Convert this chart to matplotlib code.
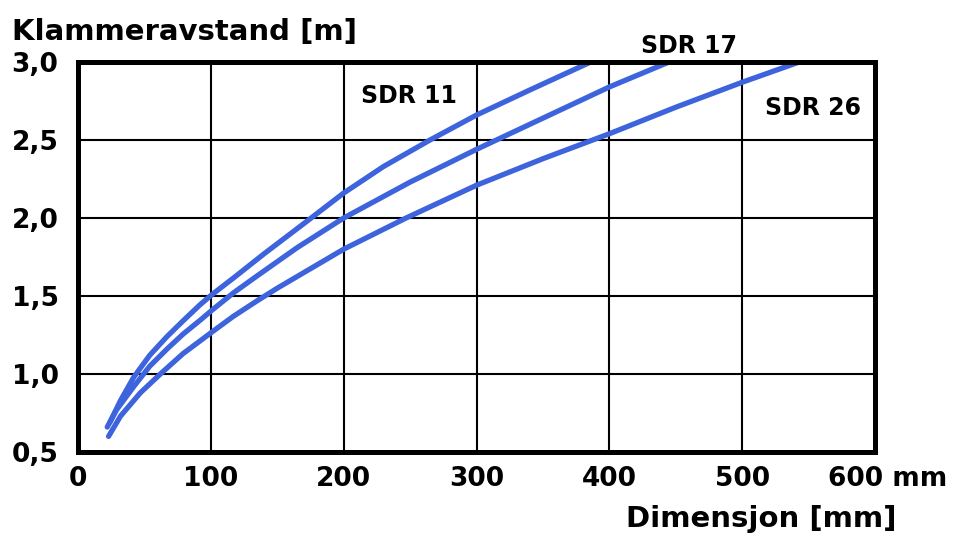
import matplotlib
matplotlib.use("Agg")
import matplotlib.pyplot as plt

# ---- data ----
sdr11_x = [24, 32, 42, 54, 67, 79, 92, 101, 117, 140, 174, 200, 230, 265, 300, 340, 386]
sdr11_y = [0.69, 0.83, 0.98, 1.12, 1.24, 1.34, 1.445, 1.51, 1.615, 1.77, 1.99, 2.16, 2.33, 2.50, 2.66, 2.82, 3.00]

sdr17_x = [22, 29, 42, 54, 67, 79, 92, 101, 117, 135, 165, 200, 250, 300, 360, 400, 445]
sdr17_y = [0.66, 0.77, 0.92, 1.05, 1.16, 1.255, 1.345, 1.41, 1.52, 1.63, 1.81, 2.00, 2.23, 2.44, 2.68, 2.84, 3.00]

sdr26_x = [23, 32, 47, 62, 79, 101, 117, 135, 150, 200, 247, 300, 350, 400, 450, 500, 543]
sdr26_y = [0.60, 0.73, 0.88, 1.00, 1.13, 1.27, 1.37, 1.47, 1.55, 1.80, 2.00, 2.21, 2.38, 2.54, 2.71, 2.87, 3.00]

x_ticks = [0, 100, 200, 300, 400, 500, 600]
x_ticklabels = ["0", "100", "200", "300", "400", "500", ""]
y_ticks = [0.5, 1.0, 1.5, 2.0, 2.5, 3.0]
y_ticklabels = ["0,5", "1,0", "1,5", "2,0", "2,5", "3,0"]

series_labels = ["SDR 11", "SDR 17", "SDR 26"]

plt.rcParams["font.family"] = ["DejaVu Sans"]
plt.rcParams["font.weight"] = "bold"

BLUE = "#3d63dd"

fig = plt.figure(figsize=(9.6, 5.35), dpi=100)
fig.patch.set_facecolor("white")
ax = fig.add_axes([78 / 960, 1 - 452 / 535, 797 / 960, 390 / 535])

for xs, ys in [(sdr11_x, sdr11_y), (sdr17_x, sdr17_y), (sdr26_x, sdr26_y)]:
    ax.plot(xs, ys, color=BLUE, linewidth=3.8, solid_capstyle="round",
            solid_joinstyle="round", zorder=3)

ax.set_xlim(0, 600)
ax.set_ylim(0.5, 3.0)
ax.set_xticks(x_ticks)
ax.set_xticklabels(x_ticklabels)
ax.set_yticks(y_ticks)
ax.set_yticklabels(y_ticklabels)
ax.tick_params(axis="both", length=0, labelsize=19)
ax.tick_params(axis="x", pad=10)
ax.tick_params(axis="y", pad=14)
for lab in ax.get_xticklabels() + ax.get_yticklabels():
    lab.set_fontweight("bold")

ax.grid(True, color="black", linewidth=1.5, zorder=1)
ax.set_axisbelow(True)
for sp in ax.spines.values():
    sp.set_linewidth(3.6)
    sp.set_color("black")
    sp.set_zorder(4)

# series labels
ax.text(249, 2.78, series_labels[0], ha="center", va="center", fontsize=17, fontweight="bold")
ax.text(460, 3.10, series_labels[1], ha="center", va="center", fontsize=17, fontweight="bold", clip_on=False)
ax.text(553, 2.705, series_labels[2], ha="center", va="center", fontsize=17, fontweight="bold")

# last x tick label with unit
ax.annotate("600 mm", xy=(600, 0), xycoords=("data", "axes fraction"),
            xytext=(-34, -10), textcoords="offset points",
            ha="left", va="top", fontsize=19, fontweight="bold")

fig.text(12 / 960, 1 - 40 / 535, "Klammeravstand [m]", ha="left", va="baseline",
         fontsize=21, fontweight="bold")
fig.text(626 / 960, 1 - 527 / 535, "Dimensjon [mm]", ha="left", va="baseline",
         fontsize=21, fontweight="bold")

fig.savefig("out.png", dpi=100, facecolor="white")
